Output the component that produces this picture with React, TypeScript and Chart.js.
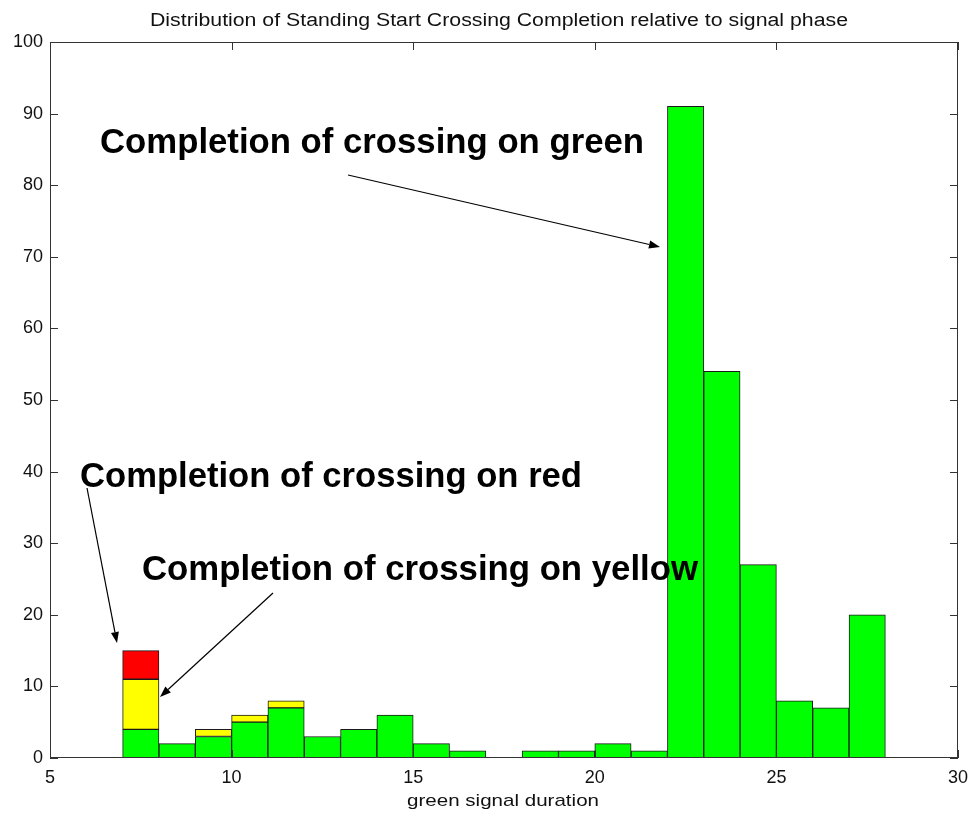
import React, { useEffect, useRef } from "react";
import { Chart, registerables } from "chart.js";

Chart.register(...registerables);

// ---- data ----
const BIN_CENTERS = [7.5, 8.5, 9.5, 10.5, 11.5, 12.5, 13.5, 14.5, 15.5, 16.5, 17.5, 18.5, 19.5, 20.5, 21.5, 22.5, 23.5, 24.5, 25.5, 26.5, 27.5];
const GREEN_COUNTS = [4, 2, 3, 5, 7, 3, 4, 6, 2, 1, null, 1, 1, 2, 1, 91, 54, 27, 8, 7, 20];
const YELLOW_COUNTS = [7, null, 1, 1, 1, null, null, null, null, null, null, null, null, null, null, null, null, null, null, null, null];
const RED_COUNTS = [4, null, null, null, null, null, null, null, null, null, null, null, null, null, null, null, null, null, null, null, null];
const X_TICKS = [5, 10, 15, 20, 25, 30];
const Y_TICKS = [0, 10, 20, 30, 40, 50, 60, 70, 80, 90, 100];

const TITLE = "Distribution of Standing Start Crossing Completion relative to signal phase";
const X_LABEL = "green signal duration";

const ANNOT_LABELS = ["Completion of crossing on green", "Completion of crossing on red", "Completion of crossing on yellow"];
// label anchor (left, baseline) and right end, in data coordinates
const ANNOT_POS = [
  { x: 6.377, y: 84.5, xr: 21.355 },
  { x: 5.826, y: 37.85, xr: 19.648 },
  { x: 7.533, y: 24.86, xr: 22.84 },
];
// arrows: from (x0,y0) to tip (x1,y1) in data coordinates
const ARROWS = [
  { x0: 13.205, y0: 81.42, x1: 21.795, y1: 71.37 },
  { x0: 6.019, y0: 37.71, x1: 6.845, y1: 16.06 },
  { x0: 11.14, y0: 23.04, x1: 8.029, y1: 8.52 },
];

const AXIS_COLOR = "#333333";
const TEXT_COLOR = "#111111";
const FONT_FAMILY = "'Liberation Sans', Arial, sans-serif";

function toPoints(vals: (number | null)[]) {
  return BIN_CENTERS.map((c, i) => ({ x: c, y: vals[i] }));
}

function drawFitted(ctx: CanvasRenderingContext2D, text: string, left: number, baseline: number, width: number, font: string) {
  ctx.save();
  ctx.font = font;
  ctx.textBaseline = "alphabetic";
  ctx.textAlign = "left";
  const w = ctx.measureText(text).width;
  const s = width / w;
  ctx.translate(left, baseline);
  ctx.scale(s, 1);
  ctx.fillText(text, 0, 0);
  ctx.restore();
}

const overlay = {
  id: "overlay",
  afterDatasetsDraw(chart: any) {
    const { ctx, chartArea: a, scales } = chart;
    const xs = scales.x;
    const ys = scales.y;
    ctx.save();
    // box
    ctx.strokeStyle = AXIS_COLOR;
    ctx.lineWidth = 1;
    ctx.strokeRect(a.left + 0.5, a.top + 0.5, a.right - a.left - 1, a.bottom - a.top - 1);
    // inward ticks
    const TL = 8;
    ctx.beginPath();
    X_TICKS.forEach((v) => {
      const px = Math.round(xs.getPixelForValue(v)) + 0.5;
      ctx.moveTo(px, a.bottom);
      ctx.lineTo(px, a.bottom - TL);
      ctx.moveTo(px, a.top);
      ctx.lineTo(px, a.top + TL);
    });
    Y_TICKS.forEach((v) => {
      const py = Math.round(ys.getPixelForValue(v)) + 0.5;
      ctx.moveTo(a.left, py);
      ctx.lineTo(a.left + TL, py);
      ctx.moveTo(a.right, py);
      ctx.lineTo(a.right - TL, py);
    });
    ctx.stroke();

    // title & x label
    ctx.fillStyle = TEXT_COLOR;
    const cx = (a.left + a.right) / 2;
    drawFitted(ctx, TITLE, cx - 354, 26, 698, `18px ${FONT_FAMILY}`);
    drawFitted(ctx, X_LABEL, cx - 97, 806, 192, `17px ${FONT_FAMILY}`);

    // annotations
    ctx.fillStyle = "#000";
    ANNOT_LABELS.forEach((t, i) => {
      const p = ANNOT_POS[i];
      const l = xs.getPixelForValue(p.x);
      const r = xs.getPixelForValue(p.xr);
      const b = ys.getPixelForValue(p.y);
      drawFitted(ctx, t, l, b, r - l, `bold 35px ${FONT_FAMILY}`);
    });

    // arrows
    ctx.strokeStyle = "#000";
    ctx.lineWidth = 1.2;
    ARROWS.forEach((ar) => {
      const x0 = xs.getPixelForValue(ar.x0);
      const y0 = ys.getPixelForValue(ar.y0);
      const x1 = xs.getPixelForValue(ar.x1);
      const y1 = ys.getPixelForValue(ar.y1);
      const ang = Math.atan2(y1 - y0, x1 - x0);
      const hl = 11;
      const hw = 4;
      const bx = x1 - hl * Math.cos(ang);
      const by = y1 - hl * Math.sin(ang);
      ctx.beginPath();
      ctx.moveTo(x0, y0);
      ctx.lineTo(bx, by);
      ctx.stroke();
      ctx.beginPath();
      ctx.moveTo(x1, y1);
      ctx.lineTo(bx + hw * Math.sin(ang), by - hw * Math.cos(ang));
      ctx.lineTo(bx - hw * Math.sin(ang), by + hw * Math.cos(ang));
      ctx.closePath();
      ctx.fill();
    });
    ctx.restore();
  },
};

export default function App() {
  const ref = useRef<HTMLCanvasElement | null>(null);
  useEffect(() => {
    document.body.style.margin = "0";
    const canvas = ref.current!;
    const chart = new Chart(canvas, {
      type: "bar",
      data: {
        datasets: [
          { label: "green", data: toPoints(GREEN_COUNTS) as any, backgroundColor: "#00ff00", borderColor: "#1a1a1a", borderWidth: 1, barPercentage: 1, categoryPercentage: 1, borderSkipped: false },
          { label: "yellow", data: toPoints(YELLOW_COUNTS) as any, backgroundColor: "#ffff00", borderColor: "#1a1a1a", borderWidth: 1, barPercentage: 1, categoryPercentage: 1, borderSkipped: false },
          { label: "red", data: toPoints(RED_COUNTS) as any, backgroundColor: "#ff0000", borderColor: "#1a1a1a", borderWidth: 1, barPercentage: 1, categoryPercentage: 1, borderSkipped: false },
        ],
      },
      options: {
        responsive: false,
        animation: false,
        devicePixelRatio: 1,
        layout: { padding: { top: 42, right: 14, left: 0, bottom: 0 } },
        plugins: { legend: { display: false }, tooltip: { enabled: false }, title: { display: false } },
        scales: {
          x: {
            type: "linear",
            min: 5,
            max: 30,
            stacked: true,
            offset: false,
            grid: { display: false, drawTicks: false },
            border: { display: false },
            afterBuildTicks: (s: any) => { s.ticks = X_TICKS.map((v) => ({ value: v })); },
            afterFit: (s: any) => { s.height = 58; s.paddingLeft = 0; s.paddingRight = 0; },
            ticks: { padding: 9, color: TEXT_COLOR, font: { size: 18, family: FONT_FAMILY }, maxRotation: 0 },
          },
          y: {
            type: "linear",
            min: 0,
            max: 100,
            stacked: true,
            grid: { display: false, drawTicks: false },
            border: { display: false },
            afterBuildTicks: (s: any) => { s.ticks = Y_TICKS.map((v) => ({ value: v })); },
            afterFit: (s: any) => { s.width = 50; s.paddingTop = 0; s.paddingBottom = 0; },
            ticks: { padding: 7, color: TEXT_COLOR, font: { size: 18, family: FONT_FAMILY } },
          },
        },
      },
      plugins: [overlay],
    });
    return () => chart.destroy();
  }, []);
  return (
    <div style={{ width: 972, height: 816, background: "#fff" }}>
      <canvas ref={ref} width={972} height={816} style={{ display: "block" }} />
    </div>
  );
}
